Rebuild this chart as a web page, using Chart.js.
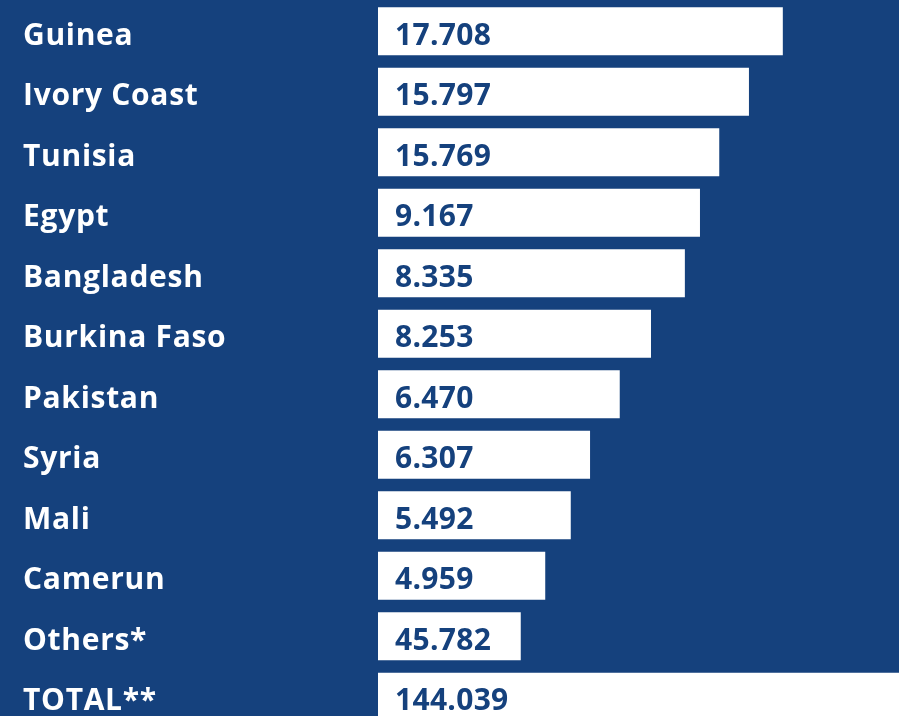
<!DOCTYPE html>
<html>
<head>
<meta charset="utf-8">
<script src="https://cdn.jsdelivr.net/npm/chart.js@4/dist/chart.umd.min.js"></script>
<style>
  html, body { margin: 0; padding: 0; background: #15417d; overflow: hidden; width: 899px; height: 716px; }
  canvas { display: block; }
</style>
</head>
<body>
<canvas id="c" width="899" height="727"></canvas>
<script>
// Categories (countries)
const categories = ['Guinea', 'Ivory Coast', 'Tunisia', 'Egypt', 'Bangladesh', 'Burkina Faso', 'Pakistan', 'Syria', 'Mali', 'Camerun', 'Others*', 'TOTAL**'];
// Values printed inside the bars
const valueLabels = ['17.708', '15.797', '15.769', '9.167', '8.335', '8.253', '6.470', '6.307', '5.492', '4.959', '45.782', '144.039'];
// Decorative bar lengths (percent of the plot width)
const barLengths = [77.7, 71.2, 65.5, 61.8, 58.9, 52.4, 46.4, 40.7, 37.0, 32.1, 27.4, 100];

const BG = '#15417d';
const FONT = "'Open Sans', sans-serif";

const spacingPlugin = {
  id: 'spacing',
  beforeDraw(chart) { chart.ctx.letterSpacing = '0.7px'; },
  afterDraw(chart) { chart.ctx.letterSpacing = '0px'; }
};

const valuePlugin = {
  id: 'valueLabels',
  afterDatasetsDraw(chart) {
    const ctx = chart.ctx;
    const meta = chart.getDatasetMeta(0);
    ctx.save();
    ctx.letterSpacing = '0.3px';
    ctx.fillStyle = BG;
    ctx.font = "700 30px " + FONT;
    ctx.textAlign = 'left';
    ctx.textBaseline = 'middle';
    meta.data.forEach((bar, i) => {
      ctx.fillText(valueLabels[i], bar.base + 17, bar.y + 5);
    });
    ctx.restore();
  }
};

new Chart(document.getElementById('c'), {
  type: 'bar',
  data: {
    labels: categories,
    datasets: [{
      data: barLengths,
      backgroundColor: '#ffffff',
      borderWidth: 0,
      categoryPercentage: 1,
      barPercentage: 0.793
    }]
  },
  options: {
    indexAxis: 'y',
    responsive: false,
    animation: false,
    events: [],
    layout: { padding: { left: 23, top: 1, right: 0, bottom: 0 } },
    plugins: { legend: { display: false }, tooltip: { enabled: false } },
    scales: {
      x: { display: false, min: 0, max: 100 },
      y: {
        grid: { display: false, drawTicks: false },
        border: { display: false },
        afterFit(scale) {
          scale.width = 355;
          scale.paddingTop = 0;
          scale.paddingBottom = 0;
        },
        ticks: {
          crossAlign: 'far',
          color: '#ffffff',
          padding: 0,
          labelOffset: 5,
          font: { family: FONT, size: 30, weight: '700' }
        }
      }
    }
  },
  plugins: [spacingPlugin, valuePlugin]
});
</script>
</body>
</html>
